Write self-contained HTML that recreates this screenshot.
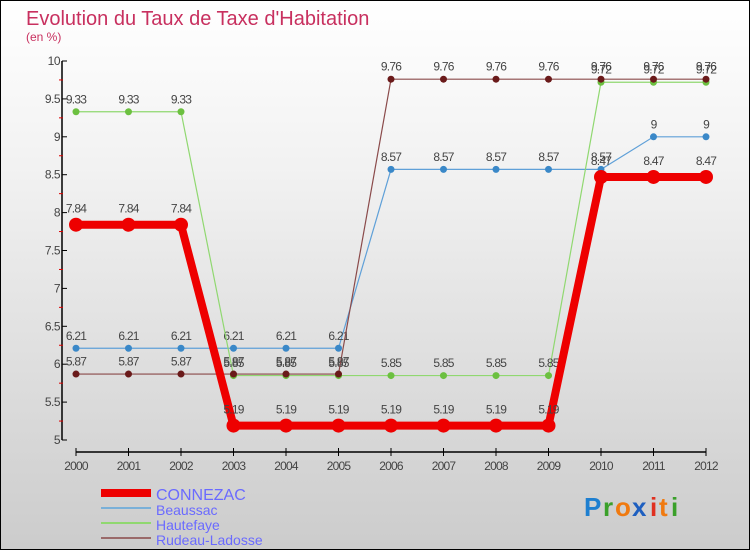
<!DOCTYPE html>
<html><head><meta charset="utf-8"><style>
html,body{margin:0;padding:0}
body{width:750px;height:550px;overflow:hidden;font-family:"Liberation Sans",sans-serif}
#wrap{position:relative;width:748px;height:548px;border:1px solid #000;background:linear-gradient(#ffffff,#f2f2f2 30%,#d4d4d4 85%,#cccccc)}
svg{position:absolute;left:0;top:0}
</style></head><body>
<div id="wrap">
<svg id="chart" width="748" height="548">
<text x="25" y="24" font-size="20" fill="#c8305f">Evolution du Taux de Taxe d'Habitation</text>
<text x="25" y="40" font-size="12" fill="#c8305f">(en %)</text>
<g id="axes"></g><g id="series"></g>
<g>
<rect x="100" y="488" width="50" height="8" fill="#e00"/>
<text x="155" y="499" font-size="16" fill="#6a6aff">CONNEZAC</text>
<rect x="100" y="506" width="50" height="2" fill="#7ab0d8"/>
<text x="155" y="514" font-size="14" fill="#6a6aff">Beaussac</text>
<rect x="100" y="521" width="50" height="2" fill="#90d870"/>
<text x="155" y="529" font-size="14" fill="#6a6aff">Hautefaye</text>
<rect x="100" y="536" width="50" height="2" fill="#9a6a6a"/>
<text x="155" y="544" font-size="14" fill="#6a6aff">Rudeau-Ladosse</text>
</g>
<g font-size="26" font-weight="bold">
<text x="583" y="515" fill="#1e7fd0">P</text><text x="602" y="515" fill="#3aa02a">r</text><text x="614" y="515" fill="#f07a10">o</text><text x="631" y="515" fill="#1e5fc0">x</text><text x="649" y="515" fill="#e03020">i</text><text x="658" y="515" fill="#f07a10">t</text><text x="670" y="515" fill="#3aa02a">i</text>
</g>
</svg></div>
<script>
const years=[2000,2001,2002,2003,2004,2005,2006,2007,2008,2009,2010,2011,2012];
const connezac=[7.84,7.84,7.84,5.19,5.19,5.19,5.19,5.19,5.19,5.19,8.47,8.47,8.47];
const beaussac=[6.21,6.21,6.21,6.21,6.21,6.21,8.57,8.57,8.57,8.57,8.57,9,9];
const hautefaye=[9.33,9.33,9.33,5.85,5.85,5.85,5.85,5.85,5.85,5.85,9.72,9.72,9.72];
const rudeau=[5.87,5.87,5.87,5.87,5.87,5.87,9.76,9.76,9.76,9.76,9.76,9.76,9.76];
const yTicks=["5","5.5","6","6.5","7","7.5","8","8.5","9","9.5","10"];
const NS="http://www.w3.org/2000/svg";
const x=i=>75+i*52.5;
const y=v=>439-(v-5)*75.8;
function mk(t,a,p){const e=document.createElementNS(NS,t);for(const k in a)e.setAttribute(k,a[k]);p.appendChild(e);return e;}
const ax=document.getElementById('axes');
let yl=mk('line',{x1:61,y1:y(10),x2:61,y2:y(5),stroke:'#000','stroke-width':1.5},ax);


yTicks.forEach(t=>{const v=+t;mk('line',{x1:61,y1:y(v),x2:66,y2:y(v),stroke:'#000'},ax);
 if(v<10)mk('line',{x1:58,y1:y(v+0.25),x2:62,y2:y(v+0.25),stroke:'#d00'},ax);
 const tx=mk('text',{x:59,y:y(v)+4,'font-size':12,fill:'#444','text-anchor':'end','letter-spacing':'-0.5'},ax);tx.textContent=t;
 
 });
let xl=mk('line',{x1:75,y1:451,x2:705,y2:451,stroke:'#000','stroke-width':1.5},ax);


years.forEach((yr,i)=>{mk('line',{x1:x(i),y1:447,x2:x(i),y2:455,stroke:'#000'},ax);
 const tx=mk('text',{x:x(i),y:469,'font-size':12,fill:'#444','text-anchor':'middle','letter-spacing':'-0.8'},ax);tx.textContent=yr;
 
 });
const sg=document.getElementById('series');
function draw(vals,color,dot,w,r,name){
 const g=mk('g',{},sg);
 
 
 mk('polyline',{points:vals.map((v,i)=>x(i)+','+y(v)).join(' '),fill:'none',stroke:color,'stroke-width':w},g);
 vals.forEach((v,i)=>{const c=mk('circle',{cx:x(i),cy:y(v),r:r,fill:dot},g);
  
  
  const t=mk('text',{x:x(i),y:y(v)-(r+5),'font-size':12,fill:'#444','text-anchor':'middle','letter-spacing':'-0.8'},g);t.textContent=v;
  
  });
}
draw(beaussac,'#5fa0d8','#3a88c8',1.2,3.5,'beaussac');
draw(hautefaye,'#90d870','#6cc040',1.2,3.5,'hautefaye');
draw(rudeau,'#8a4a4a','#6a1a1a',1.2,3.5,'rudeau-ladosse');
draw(connezac,'#ee0000','#ee0000',8,7,'connezac');
</script>
</body></html>
